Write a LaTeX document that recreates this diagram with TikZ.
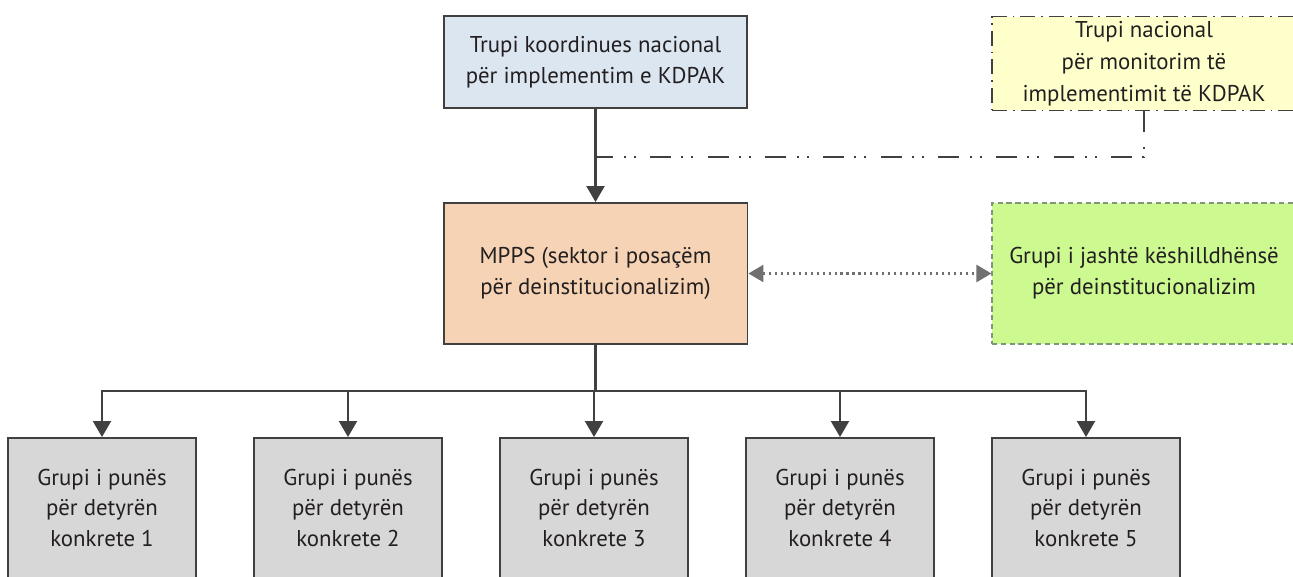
\documentclass[tikz,border=0pt]{standalone}
\usepackage{fontspec}
\setmainfont{PT Sans}
\usepackage{xcolor}
\usetikzlibrary{arrows.meta}

\definecolor{edge}{HTML}{404040}
\definecolor{ink}{HTML}{231F20}
\definecolor{coordfill}{HTML}{DCE6F1}
\definecolor{mppsfill}{HTML}{F6D3B4}
\definecolor{monfill}{HTML}{FFFFCC}
\definecolor{advfill}{HTML}{CCFA91}
\definecolor{advline}{HTML}{80967A}
\definecolor{wgfill}{HTML}{D7D7D7}
\definecolor{dotgray}{HTML}{707070}

\begin{document}
\begin{tikzpicture}[x=0.02cm, y=-0.02cm,
  box/.style={draw=edge, line width=1.1pt, align=center, inner sep=0pt,
    text=ink, font=\fontsize{13}{17.6}\selectfont},
  topbox/.style={box, fill=coordfill, minimum width=6.06cm, minimum height=1.84cm},
  mppsbox/.style={box, fill=mppsfill, minimum width=6.08cm, minimum height=2.82cm},
  monbox/.style={box, fill=monfill, line width=0.9pt,
    font=\fontsize{13}{18.2}\selectfont,
    dash pattern=on 8.5pt off 3.4pt on 1pt off 3.4pt,
    minimum width=6.08cm, minimum height=1.88cm},
  advbox/.style={box, fill=advfill, draw=advline, line width=0.7pt,
    dash pattern=on 3pt off 2pt, minimum width=6.08cm, minimum height=2.82cm},
  wgbox/.style={box, fill=wgfill, minimum width=3.76cm, minimum height=2.80cm},
  tip/.style={-{Triangle[width=0.36cm, length=0.32cm]}},
  link/.style={draw=edge, line width=1.2pt},
  ddot/.style={draw=edge, line width=1.3pt,
    dash pattern=on 11.9pt off 8.2pt on 1.1pt off 4.6pt on 1.1pt off 5.9pt},
  dotlink/.style={draw=dotgray, line width=1.4pt, dash pattern=on 1.2pt off 2.2pt,
    {Triangle[width=0.34cm, length=0.3cm]}-{Triangle[width=0.34cm, length=0.3cm]}}]
  \useasboundingbox (0,0) rectangle (1293,577);

  % Top level
  \node[topbox] (top) at (595.5,62) {Trupi koordinues nacional\\për implementim e KDPAK};
  \node[monbox] (mon) at (1144,63.5) {Trupi nacional\\për monitorim të\\implementimit të KDPAK};

  % Ministry and advisory group
  \node[mppsbox] (mpps) at (595.5,273.5) {MPPS (sektor i posaçëm\\për deinstitucionalizim)};
  \node[advbox] (adv) at (1144,273.5) {Grupi i jashtë këshilldhënsë\\për deinstitucionalizim};

  % Working groups
  \foreach \i/\x in {1/102, 2/348, 3/594, 4/840, 5/1086}
    \node[wgbox] (wg\i) at (\x,508) {Grupi i punës\\për detyrën\\konkrete \i};

  \coordinate (join) at (595.5,157);
  \coordinate (bus) at (595.5,391);

  \draw[link, tip] (top.south) -- (mpps.north);
  \draw[ddot] (mon.south) |- (join);
  \draw[dotlink] (mpps.east) -- (adv.west);
  \draw[link] (mpps.south) -- (bus);
  \foreach \i in {1,...,5}
    \draw[link, tip] (bus) -| (wg\i.north);
\end{tikzpicture}
\end{document}
